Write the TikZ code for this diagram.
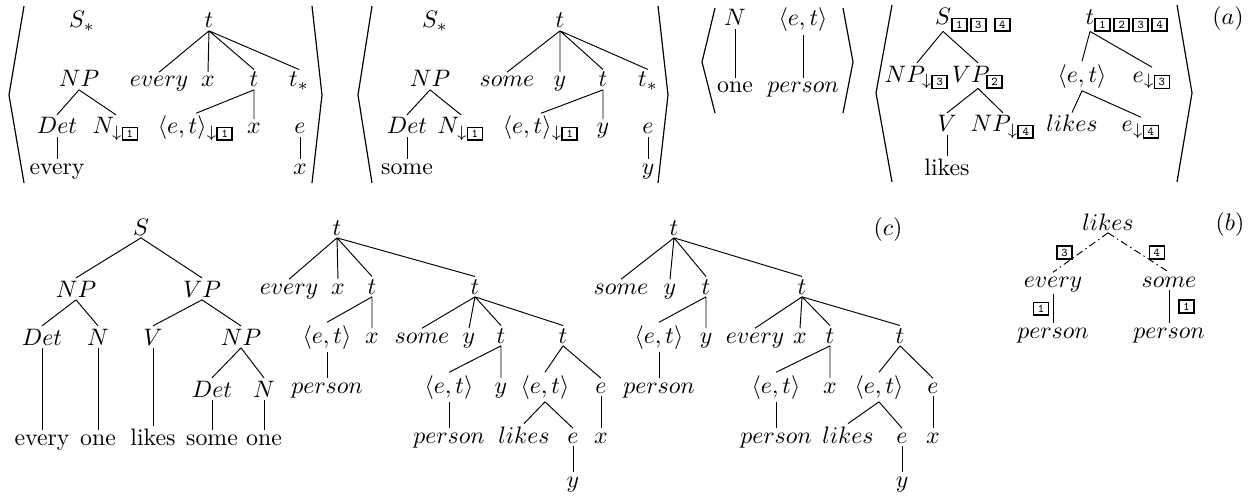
\documentclass[tikz,border=0pt]{standalone}
\usetikzlibrary{positioning}
\newcommand{\gbox}[1]{{\setlength{\fboxsep}{0.8pt}\setlength{\fboxrule}{0.7pt}\fbox{\makebox[4pt]{\ttfamily\tiny #1}}}}

\begin{document}
\begin{tikzpicture}[
  x=0.42pt, y=-0.42pt,
  tn/.style={anchor=base, inner sep=1pt, execute at begin node={\rule{0pt}{5pt}}},
  lbl/.style={anchor=base, inner sep=0pt},
  elbl/.style={inner sep=0pt},
  branch/.style={line width=0.4pt},
  dashdot/.style={line width=0.4pt, dash pattern=on 3pt off 1.5pt on 0.6pt off 1.5pt},
  brk/.style={line width=0.5pt}
]
  \useasboundingbox (0,0) rectangle (1258,496);

  % (a) every
  \node[tn] (a1s) at (82,28) {$S_*$};
  \node[tn] (a1t) at (209,28) {$t$};
  \node[tn] (a1np) at (79,87) {$NP$};
  \node[tn] (a1every) at (159,87) {$every$};
  \node[tn] (a1x) at (208,87) {$x$};
  \node[tn] (a1t2) at (254,87) {$t$};
  \node[tn] (a1ts) at (299,87) {$t_*$};
  \node[tn] (a1det) at (57,134) {$Det$};
  \node[tn] (a1n) at (116,134) {$N_{\downarrow\gbox{1}}$};
  \node[tn] (a1et) at (196,134) {$\langle e,t\rangle_{\downarrow\gbox{1}}$};
  \node[tn] (a1x2) at (254,134) {$x$};
  \node[tn] (a1e) at (300,134) {$e$};
  \node[tn] (a1w) at (57,174) {every};
  \node[tn] (a1x3) at (300,174) {$x$};

  \draw[branch] (a1t.south) -- (a1every.north) (a1t.south) -- (a1x.north)
    (a1t.south) -- (a1t2.north) (a1t.south) -- (a1ts.north);
  \draw[branch] (a1np.south) -- (a1det.north) (a1np.south) -- (a1n.north);
  \draw[branch] (a1t2.south) -- (a1et.north) (a1t2.south) -- (a1x2.north);
  \draw[branch] (a1det.south) -- (a1w.north);
  \draw[branch] (a1e.south) -- (a1x3.north);
  \draw[brk] (24,6) -- (9,95) -- (24,183);
  \draw[brk] (312,6) -- (322,95) -- (312,183);

  % (a) some
  \node[tn] (a2s) at (435,28) {$S_*$};
  \node[tn] (a2t) at (560,28) {$t$};
  \node[tn] (a2np) at (430,87) {$NP$};
  \node[tn] (a2some) at (507,87) {$some$};
  \node[tn] (a2y) at (560,87) {$y$};
  \node[tn] (a2t2) at (603,87) {$t$};
  \node[tn] (a2ts) at (648,87) {$t_*$};
  \node[tn] (a2det) at (407,134) {$Det$};
  \node[tn] (a2n) at (461,134) {$N_{\downarrow\gbox{1}}$};
  \node[tn] (a2et) at (541,134) {$\langle e,t\rangle_{\downarrow\gbox{1}}$};
  \node[tn] (a2y2) at (603,134) {$y$};
  \node[tn] (a2e) at (648,134) {$e$};
  \node[tn] (a2w) at (407,174) {some};
  \node[tn] (a2y3) at (648,174) {$y$};

  \draw[branch] (a2t.south) -- (a2some.north) (a2t.south) -- (a2y.north)
    (a2t.south) -- (a2t2.north) (a2t.south) -- (a2ts.north);
  \draw[branch] (a2np.south) -- (a2det.north) (a2np.south) -- (a2n.north);
  \draw[branch] (a2t2.south) -- (a2et.north) (a2t2.south) -- (a2y2.north);
  \draw[branch] (a2det.south) -- (a2w.north);
  \draw[branch] (a2e.south) -- (a2y3.north);
  \draw[brk] (372,6) -- (358,95) -- (372,183);
  \draw[brk] (658,6) -- (668,95) -- (658,183);

  % (a) one
  \node[tn] (a3n) at (735,26) {$N$};
  \node[tn] (a3et) at (803,26) {$\langle e,t\rangle$};
  \node[tn] (a3one) at (735,93) {one};
  \node[tn] (a3per) at (803,93) {$person$};

  \draw[branch] (a3n.south) -- (a3one.north);
  \draw[branch] (a3et.south) -- (a3per.north);
  \draw[brk] (715,8) -- (702,62) -- (715,113);
  \draw[brk] (843,8) -- (853,62) -- (843,113);

  % (a) likes
  \node[tn] (a4s) at (943,25) {$S\rlap{$_{\smash{\gbox{1}\kern1pt\gbox{3}\kern3pt\gbox{4}}}$}$};
  \node[tn] (a4t) at (1090,25) {$t\rlap{$_{\smash{\gbox{1}\kern1pt\gbox{2}\kern1pt\gbox{3}\kern1pt\gbox{4}}}$}$};
  \node[tn] (a4np) at (917,82) {$NP_{\downarrow\gbox{3}}$};
  \node[tn] (a4vp) at (978,82) {$VP_{\smash{\gbox{2}}}$};
  \node[tn] (a4v) at (947,132) {$V$};
  \node[tn] (a4np2) at (1003,132) {$NP_{\downarrow\gbox{4}}$};
  \node[tn] (a4w) at (947,175) {likes};
  \node[tn] (a4et) at (1082,82) {$\langle e,t\rangle$};
  \node[tn] (a4e3) at (1152,82) {$e_{\downarrow\gbox{3}}$};
  \node[tn] (a4lk) at (1072,132) {$likes$};
  \node[tn] (a4e4) at (1141,132) {$e_{\downarrow\gbox{4}}$};
  \node[lbl] (taga) at (1228,25) {$(a)$};

  \draw[branch] (a4s.south) -- (a4np.north) (a4s.south) -- (a4vp.north);
  \draw[branch] (a4vp.south) -- (a4v.north) (a4vp.south) -- (a4np2.north);
  \draw[branch] (a4v.south) -- (a4w.north);
  \draw[branch] (a4t.south) -- (a4et.north) (a4t.south) -- (a4e3.north);
  \draw[branch] (a4et.south) -- (a4lk.north) (a4et.south) -- (a4e4.north);
  \draw[brk] (892,5) -- (876,93) -- (892,182);
  \draw[brk] (1177,5) -- (1192,93) -- (1177,182);

  % (c) syntax tree
  \node[tn] (b1s) at (141,235) {$S$};
  \node[tn] (b1np) at (76,297) {$NP$};
  \node[tn] (b1vp) at (202,297) {$VP$};
  \node[tn] (b1det) at (42,345) {$Det$};
  \node[tn] (b1n) at (98,345) {$N$};
  \node[tn] (b1v) at (153,345) {$V$};
  \node[tn] (b1np2) at (241,345) {$NP$};
  \node[tn] (b1det2) at (212,397) {$Det$};
  \node[tn] (b1n2) at (264,397) {$N$};
  \node[tn] (b1w1) at (42,445) {every};
  \node[tn] (b1w2) at (98,445) {one};
  \node[tn] (b1w3) at (153,445) {likes};
  \node[tn] (b1w4) at (212,445) {some};
  \node[tn] (b1w5) at (264,445) {one};

  \draw[branch] (b1s.south) -- (b1np.north) (b1s.south) -- (b1vp.north);
  \draw[branch] (b1np.south) -- (b1det.north) (b1np.south) -- (b1n.north);
  \draw[branch] (b1vp.south) -- (b1v.north) (b1vp.south) -- (b1np2.north);
  \draw[branch] (b1np2.south) -- (b1det2.north) (b1np2.south) -- (b1n2.north);
  \draw[branch] (b1det.south) -- (b1w1.north);
  \draw[branch] (b1n.south) -- (b1w2.north);
  \draw[branch] (b1v.south) -- (b1w3.north);
  \draw[branch] (b1det2.south) -- (b1w4.north);
  \draw[branch] (b1n2.south) -- (b1w5.north);

  % (c) every > some
  \node[tn] (b2t) at (337,235) {$t$};
  \node[tn] (b2every) at (289,294) {$every$};
  \node[tn] (b2x) at (338,294) {$x$};
  \node[tn] (b2t1) at (372,294) {$t$};
  \node[tn] (b2t2) at (475,294) {$t$};
  \node[tn] (b2et) at (327,343) {$\langle e,t\rangle$};
  \node[tn] (b2x2) at (372,343) {$x$};
  \node[tn] (b2some) at (422,343) {$some$};
  \node[tn] (b2y) at (469,343) {$y$};
  \node[tn] (b2t3) at (501,343) {$t$};
  \node[tn] (b2t4) at (563,343) {$t$};
  \node[tn] (b2per) at (327,393) {$person$};
  \node[tn] (b2et2) at (449,393) {$\langle e,t\rangle$};
  \node[tn] (b2y2) at (501,393) {$y$};
  \node[tn] (b2et3) at (545,393) {$\langle e,t\rangle$};
  \node[tn] (b2e) at (601,393) {$e$};
  \node[tn] (b2per2) at (449,443) {$person$};
  \node[tn] (b2lk) at (524,443) {$likes$};
  \node[tn] (b2e2) at (573,443) {$e$};
  \node[tn] (b2x3) at (601,443) {$x$};
  \node[tn] (b2y3) at (573,487) {$y$};

  \draw[branch] (b2t.south) -- (b2every.north) (b2t.south) -- (b2x.north)
    (b2t.south) -- (b2t1.north) (b2t.south) -- (b2t2.north);
  \draw[branch] (b2t1.south) -- (b2et.north) (b2t1.south) -- (b2x2.north);
  \draw[branch] (b2et.south) -- (b2per.north);
  \draw[branch] (b2t2.south) -- (b2some.north) (b2t2.south) -- (b2y.north)
    (b2t2.south) -- (b2t3.north) (b2t2.south) -- (b2t4.north);
  \draw[branch] (b2t3.south) -- (b2et2.north) (b2t3.south) -- (b2y2.north);
  \draw[branch] (b2et2.south) -- (b2per2.north);
  \draw[branch] (b2t4.south) -- (b2et3.north) (b2t4.south) -- (b2e.north);
  \draw[branch] (b2et3.south) -- (b2lk.north) (b2et3.south) -- (b2e2.north);
  \draw[branch] (b2e2.south) -- (b2y3.north);
  \draw[branch] (b2e.south) -- (b2x3.north);

  % (c) some > every
  \node[tn] (b3t) at (674,235) {$t$};
  \node[tn] (b3some) at (621,294) {$some$};
  \node[tn] (b3y) at (670,294) {$y$};
  \node[tn] (b3t1) at (706,294) {$t$};
  \node[tn] (b3t2) at (802,294) {$t$};
  \node[tn] (b3et) at (659,343) {$\langle e,t\rangle$};
  \node[tn] (b3y2) at (706,343) {$y$};
  \node[tn] (b3every) at (755,343) {$every$};
  \node[tn] (b3x) at (800,343) {$x$};
  \node[tn] (b3t3) at (830,343) {$t$};
  \node[tn] (b3t4) at (900,343) {$t$};
  \node[tn] (b3per) at (659,393) {$person$};
  \node[tn] (b3et2) at (776,393) {$\langle e,t\rangle$};
  \node[tn] (b3x2) at (830,393) {$x$};
  \node[tn] (b3et3) at (879,393) {$\langle e,t\rangle$};
  \node[tn] (b3e) at (933,393) {$e$};
  \node[tn] (b3per2) at (776,443) {$person$};
  \node[tn] (b3lk) at (848,443) {$likes$};
  \node[tn] (b3e2) at (902,443) {$e$};
  \node[tn] (b3x3) at (933,443) {$x$};
  \node[tn] (b3y3) at (902,487) {$y$};
  \node[lbl] (tagc) at (888,235) {$(c)$};

  \draw[branch] (b3t.south) -- (b3some.north) (b3t.south) -- (b3y.north)
    (b3t.south) -- (b3t1.north) (b3t.south) -- (b3t2.north);
  \draw[branch] (b3t1.south) -- (b3et.north) (b3t1.south) -- (b3y2.north);
  \draw[branch] (b3et.south) -- (b3per.north);
  \draw[branch] (b3t2.south) -- (b3every.north) (b3t2.south) -- (b3x.north)
    (b3t2.south) -- (b3t3.north) (b3t2.south) -- (b3t4.north);
  \draw[branch] (b3t3.south) -- (b3et2.north) (b3t3.south) -- (b3x2.north);
  \draw[branch] (b3et2.south) -- (b3per2.north);
  \draw[branch] (b3t4.south) -- (b3et3.north) (b3t4.south) -- (b3e.north);
  \draw[branch] (b3et3.south) -- (b3lk.north) (b3et3.south) -- (b3e2.north);
  \draw[branch] (b3e2.south) -- (b3y3.north);
  \draw[branch] (b3e.south) -- (b3x3.north);

  % (b) derivation tree
  \node[tn] (blk) at (1108,230) {$likes$};
  \node[tn] (bev) at (1053,287) {$every$};
  \node[tn] (bso) at (1169,287) {$some$};
  \node[tn] (bp1) at (1053,338) {$person$};
  \node[tn] (bp2) at (1169,338) {$person$};
  \node[lbl] (tagb) at (1230,230) {$(b)$};

  \draw[dashdot] (blk.south) -- node[elbl, left=3pt] {\gbox{3}} (bev.north);
  \draw[dashdot] (blk.south) -- node[elbl, right=4pt] {\gbox{4}} (bso.north);
  \draw[branch] (bev.south) -- node[elbl, left=1.3pt] {\gbox{1}} (bp1.north);
  \draw[branch] (bso.south) -- node[elbl, right=3.7pt] {\gbox{1}} (bp2.north);
\end{tikzpicture}
\end{document}
